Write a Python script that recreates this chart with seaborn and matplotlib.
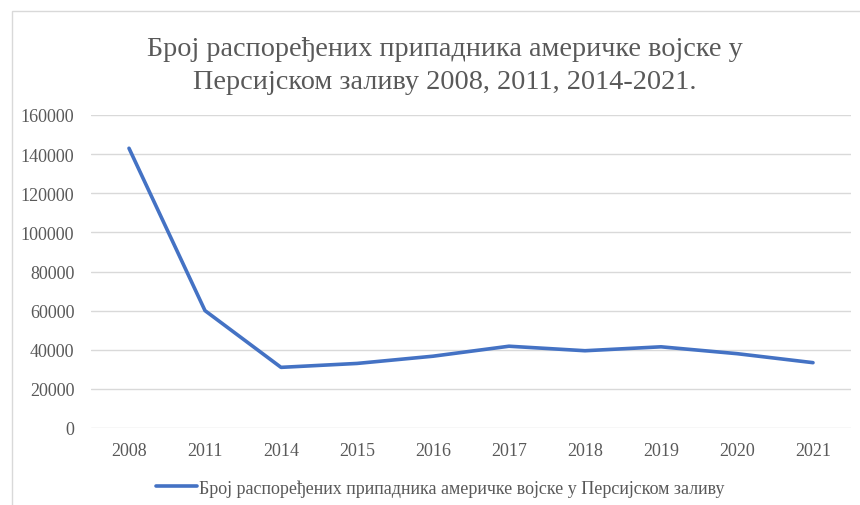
import matplotlib
matplotlib.use("Agg")
import matplotlib.pyplot as plt
import seaborn as sns
import pandas as pd

years = ["2008", "2011", "2014", "2015", "2016", "2017", "2018", "2019", "2020", "2021"]
troops = [143000, 60000, 31000, 33000, 36700, 41800, 39500, 41500, 38000, 33400]
series_name = "Број распоређених припадника америчке војске у Персијском заливу"
title = "Број распоређених припадника америчке војске у\nПерсијском заливу 2008, 2011, 2014-2021."
y_ticks = [0, 20000, 40000, 60000, 80000, 100000, 120000, 140000, 160000]

sns.set_theme(style="white")
plt.rcParams["font.family"] = ["Liberation Serif", "DejaVu Serif"]

df = pd.DataFrame({"year": years, "troops": troops, "series": series_name})

fig = plt.figure(figsize=(8.6, 5.06), dpi=100)
ax = fig.add_axes([91 / 860, 1 - 429 / 506, (851 - 91) / 860, (429 - 116) / 506])

sns.lineplot(data=df, x="year", y="troops", hue="series", palette=["#4472C4"],
             linewidth=2.6, ax=ax, sort=False)

text_color = "#595959"
ax.set_xlim(-0.5, len(years) - 0.5)
ax.set_ylim(0, 160000)
ax.set_yticks(y_ticks)
ax.set_yticklabels([str(v) for v in y_ticks])
ax.grid(axis="y", color="#D9D9D9", linewidth=1)
ax.set_axisbelow(True)
for s in ax.spines.values():
    s.set_visible(False)
ax.tick_params(axis="both", length=0, labelsize=13, colors=text_color)
ax.tick_params(axis="x", pad=10)
ax.tick_params(axis="y", pad=12)
ax.set_xlabel("")
ax.set_ylabel("")

leg = ax.legend(loc="center", bbox_to_anchor=(440 / 860, 1 - 489 / 506),
                bbox_transform=fig.transFigure, frameon=False, fontsize=13,
                handlelength=2.3, handletextpad=0.1)
for t in leg.get_texts():
    t.set_color(text_color)

fig.text(445 / 860, 1 - 66 / 506, title, ha="center", va="center",
         fontsize=20.3, color=text_color, linespacing=1.4)

# chart frame
fig.add_artist(plt.Rectangle((12 / 860, -0.1), 2, 1 - 12 / 506 + 0.1,
                             transform=fig.transFigure, fill=False,
                             edgecolor="#D9D9D9", linewidth=1))

fig.savefig("out.png", dpi=100, facecolor="white")
